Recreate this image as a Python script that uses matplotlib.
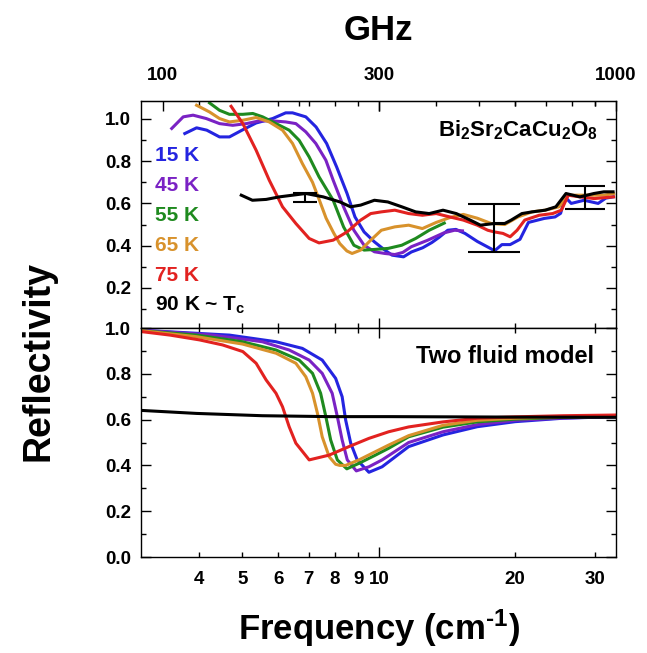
import matplotlib
matplotlib.use("Agg")
import matplotlib.pyplot as plt
from matplotlib.ticker import FixedLocator, FuncFormatter, MultipleLocator, NullFormatter

plt.rcParams["font.family"] = ["Liberation Sans", "DejaVu Sans"]
plt.rcParams["font.weight"] = "bold"
plt.rcParams["mathtext.fontset"] = "custom"
plt.rcParams["mathtext.rm"] = "Liberation Sans:bold"
plt.rcParams["mathtext.bf"] = "Liberation Sans:bold"
plt.rcParams["mathtext.it"] = "Liberation Sans:bold:italic"

CM_TO_GHZ = 29.9792

TEMPS = ["15 K", "45 K", "55 K", "65 K", "75 K", "90 K ~ T$_\\mathrm{c}$"]
COLORS = ["#2424e0", "#7a22c4", "#1f8a1f", "#d8922c", "#e22220", "#000000"]

# measured reflectivity (frequency in cm^-1)
meas_x15 = [3.73, 3.96, 4.17, 4.45, 4.68, 5.02, 5.36, 5.83, 6.23, 6.45, 6.90, 7.27, 7.67, 8.07,
            8.51, 8.86, 9.28, 9.78, 10.31, 10.70, 11.34, 11.8, 12.5, 13.1, 13.6, 14.2, 14.8, 15.5,
            16.5, 17.7, 18.0, 18.7, 19.5, 20.5, 21.4, 23.2, 24.5, 25.2, 25.8, 26.6, 28.4, 30.5,
            31.7, 32.9]
meas_r15 = [0.931, 0.958, 0.947, 0.915, 0.915, 0.950, 0.981, 1.002, 1.029, 1.029, 1.010, 0.962,
            0.884, 0.773, 0.647, 0.536, 0.465, 0.418, 0.379, 0.355, 0.347, 0.37, 0.39, 0.415,
            0.44, 0.473, 0.477, 0.458, 0.42, 0.385, 0.375, 0.405, 0.405, 0.43, 0.51, 0.529,
            0.536, 0.553, 0.63, 0.60, 0.615, 0.60, 0.625, 0.631]

meas_x45 = [3.49, 3.70, 3.89, 4.16, 4.45, 4.76, 5.10, 5.45, 5.82, 6.23, 6.56, 6.90, 7.26, 7.64,
            7.93, 8.36, 8.81, 9.28, 9.78, 10.31, 10.85, 11.3, 11.8, 12.8, 13.9, 14.7, 15.3]
meas_r45 = [0.955, 1.010, 1.018, 1.002, 0.978, 0.970, 0.978, 0.991, 0.991, 0.986, 0.978, 0.939,
            0.884, 0.805, 0.710, 0.584, 0.473, 0.402, 0.371, 0.363, 0.358, 0.368, 0.395, 0.425,
            0.46, 0.473, 0.47]

meas_x55 = [4.23, 4.45, 4.68, 5.01, 5.27, 5.54, 5.93, 6.34, 6.67, 7.02, 7.38, 7.93, 8.36, 8.81,
            9.28, 9.78, 10.49, 11.24, 12.06, 12.92, 13.95]
meas_r55 = [1.076, 1.041, 1.022, 1.022, 1.026, 1.010, 0.978, 0.947, 0.899, 0.820, 0.726, 0.615,
            0.489, 0.402, 0.379, 0.382, 0.387, 0.402, 0.434, 0.473, 0.507]

meas_x65 = [3.96, 4.23, 4.45, 4.68, 5.01, 5.36, 5.73, 6.13, 6.45, 6.78, 7.14, 7.38, 7.65, 7.95,
            8.2, 8.5, 8.73, 9.12, 9.60, 10.13, 10.85, 11.64, 12.48, 13.39, 14.35, 15.37, 16.5,
            17.7, 18.97, 20.3, 21.8, 23.3, 25.0, 26.2, 28.8, 31.4, 33.0]
meas_r65 = [1.065, 1.033, 1.002, 0.986, 0.994, 1.007, 0.986, 0.947, 0.884, 0.789, 0.70, 0.62,
            0.53, 0.46, 0.41, 0.375, 0.363, 0.379, 0.426, 0.473, 0.489, 0.497, 0.481, 0.51,
            0.533, 0.548, 0.53, 0.505, 0.50, 0.536, 0.560, 0.568, 0.584, 0.639, 0.639, 0.639,
            0.647]

meas_x75 = [4.72, 5.01, 5.36, 5.73, 6.13, 6.56, 7.02, 7.38, 7.93, 8.51, 9.12, 9.60, 10.13, 10.85,
            11.64, 12.48, 13.39, 14.35, 15.37, 16.5, 17.4, 18.0, 18.8, 19.5, 20.2, 21.0, 22.6,
            24.2, 25.3, 26.2, 27.8, 29.9, 33.0]
meas_r75 = [1.060, 0.978, 0.852, 0.710, 0.584, 0.505, 0.434, 0.413, 0.426, 0.465, 0.521, 0.552,
            0.560, 0.568, 0.552, 0.544, 0.552, 0.536, 0.521, 0.497, 0.473, 0.465, 0.458, 0.442,
            0.473, 0.521, 0.544, 0.552, 0.568, 0.639, 0.631, 0.623, 0.631]

meas_x90 = [4.97, 5.26, 5.64, 6.03, 6.45, 6.90, 7.54, 8.21, 8.66, 9.12, 9.78, 10.47, 11.24, 12.06,
            12.92, 13.86, 14.83, 15.92, 16.77, 18.0, 18.97, 19.6, 20.7, 21.8, 23.3, 24.6, 25.9,
            27.8, 29.85, 31.4, 32.9]
meas_r90 = [0.639, 0.615, 0.619, 0.631, 0.639, 0.647, 0.631, 0.607, 0.584, 0.592, 0.615, 0.607,
            0.584, 0.560, 0.552, 0.568, 0.552, 0.521, 0.497, 0.505, 0.505, 0.521, 0.552, 0.560,
            0.568, 0.584, 0.647, 0.631, 0.647, 0.655, 0.655]

# error bars on the 90 K data
err_x = [6.87, 18.0, 28.6]
err_y = [0.629, 0.484, 0.627]
err_dy = [0.021, 0.112, 0.055]
err_cap = [8.6, 18.7, 14.4]

# two fluid model
fit_x15 = [3.0, 4.68, 5.93, 6.78, 7.5, 8.03, 8.3, 8.45, 8.67, 8.96, 9.51, 10.17, 11.64, 13.86,
           16.5, 20, 25.5, 33.4]
fit_r15 = [0.99, 0.969, 0.940, 0.911, 0.860, 0.780, 0.700, 0.598, 0.497, 0.424, 0.370, 0.394,
           0.482, 0.533, 0.569, 0.591, 0.606, 0.613]

fit_x45 = [3.0, 4.3, 5.53, 6.34, 7.02, 7.5, 7.89, 8.1, 8.3, 8.52, 8.92, 9.51, 10.17, 11.64, 13.86,
           16.5, 20, 25.5, 33.4]
fit_r45 = [0.99, 0.969, 0.940, 0.904, 0.860, 0.802, 0.715, 0.613, 0.511, 0.424, 0.376, 0.394,
           0.424, 0.50, 0.547, 0.578, 0.597, 0.607, 0.613]

fit_x55 = [3.0, 3.96, 5.0, 5.93, 6.67, 7.14, 7.44, 7.64, 7.83, 8.1, 8.5, 9.04, 9.83, 10.52, 11.64,
           13.86, 16.5, 20, 25.5, 33.4]
fit_r55 = [0.988, 0.969, 0.940, 0.904, 0.860, 0.802, 0.715, 0.613, 0.511, 0.424, 0.385, 0.409,
           0.445, 0.475, 0.525, 0.567, 0.59, 0.602, 0.61, 0.614]

fit_x65 = [3.0, 3.96, 5.0, 5.93, 6.56, 6.90, 7.14, 7.32, 7.50, 7.77, 8.03, 8.2, 8.45, 9.04, 9.83,
           10.52, 11.64, 13.86, 16.5, 20, 25.5, 33.4]
fit_r65 = [0.988, 0.962, 0.930, 0.890, 0.846, 0.787, 0.715, 0.628, 0.525, 0.438, 0.405, 0.400,
           0.400, 0.424, 0.460, 0.489, 0.53, 0.575, 0.597, 0.606, 0.612, 0.615]

fit_x75 = [3.0, 3.46, 4.02, 4.52, 5.01, 5.36, 5.64, 5.93, 6.13, 6.34, 6.56, 7.02, 7.77, 8.59, 9.51,
           10.52, 11.64, 13.86, 16.5, 20, 25.5, 33.4]
fit_r75 = [0.984, 0.969, 0.948, 0.926, 0.897, 0.846, 0.773, 0.715, 0.656, 0.569, 0.497, 0.424,
           0.445, 0.482, 0.518, 0.547, 0.568, 0.59, 0.606, 0.612, 0.617, 0.62]

fit_x90 = [3.0, 3.96, 5.53, 7.77, 10.52, 20, 33.4]
fit_r90 = [0.64, 0.627, 0.617, 0.613, 0.613, 0.611, 0.61]

meas = [(meas_x15, meas_r15), (meas_x45, meas_r45), (meas_x55, meas_r55),
        (meas_x65, meas_r65), (meas_x75, meas_r75), (meas_x90, meas_r90)]
fits = [(fit_x15, fit_r15), (fit_x45, fit_r45), (fit_x55, fit_r55),
        (fit_x65, fit_r65), (fit_x75, fit_r75), (fit_x90, fit_r90)]

XLIM = (2.985, 33.4)
TICK_FS = 13.5
LABEL_FS = 25


def style_axes(ax):
    ax.set_xscale("log")
    ax.set_xlim(*XLIM)
    ax.xaxis.set_major_locator(FixedLocator([10]))
    ax.xaxis.set_minor_locator(FixedLocator([4, 5, 6, 7, 8, 9, 20, 30]))
    fmt = FuncFormatter(lambda v, p: f"{v:g}")
    ax.xaxis.set_major_formatter(fmt)
    ax.xaxis.set_minor_formatter(fmt)
    ax.yaxis.set_major_locator(MultipleLocator(0.2))
    ax.yaxis.set_minor_locator(MultipleLocator(0.1))
    ax.yaxis.set_major_formatter(FuncFormatter(lambda v, p: f"{v:.1f}"))
    ax.tick_params(which="both", direction="in", top=True, right=True, width=1.0,
                   labelsize=TICK_FS)
    ax.tick_params(which="major", length=7)
    ax.tick_params(which="minor", length=3.5)
    ax.tick_params(axis="x", which="both", pad=10)
    ax.tick_params(axis="y", which="both", pad=7)
    for sp in ax.spines.values():
        sp.set_linewidth(1.0)


fig = plt.figure(figsize=(6.47, 6.53), dpi=100)
ax1 = fig.add_axes([0.2179, 0.4977, 0.7342, 0.3476])
ax2 = fig.add_axes([0.2179, 0.1470, 0.7342, 0.3507])

for ax in (ax1, ax2):
    style_axes(ax)

# measured data
for (x, r), c in zip(meas, COLORS):
    ax1.plot(x, r, color=c, lw=2.2, solid_joinstyle="round")
for x, y, dy, cap in zip(err_x, err_y, err_dy, err_cap):
    ax1.errorbar([x], [y], yerr=[dy], fmt="none", ecolor="black", elinewidth=1.5,
                 capsize=cap, capthick=1.5)
ax1.set_ylim(0.01, 1.085)
ax1.tick_params(axis="x", which="both", labelbottom=False)

# GHz scale along the top
sec = ax1.secondary_xaxis("top", functions=(lambda f: f * CM_TO_GHZ, lambda g: g / CM_TO_GHZ))
sec.set_xticks([100, 300, 1000], labels=["100", "300", "1000"])
sec.xaxis.set_minor_locator(FixedLocator([200, 400, 500, 600, 700, 800, 900]))
sec.xaxis.set_minor_formatter(NullFormatter())
sec.tick_params(which="both", direction="in", width=1.0, labelsize=TICK_FS, pad=12)
sec.tick_params(which="major", length=7)
sec.tick_params(which="minor", length=3.5)
sec.set_xlabel("GHz", fontsize=LABEL_FS, fontweight="bold", labelpad=20)

for i, (lab, c) in enumerate(zip(TEMPS, COLORS)):
    ax1.text(0.029, 0.762 - 0.1322 * i, lab, transform=ax1.transAxes, color=c,
             fontsize=15, fontweight="bold", ha="left", va="center")
ax1.text(0.962, 0.843, "Bi$_\\mathrm{2}$Sr$_\\mathrm{2}$CaCu$_\\mathrm{2}$O$_\\mathrm{8}$",
         transform=ax1.transAxes, fontsize=16, ha="right", va="baseline")

# two fluid model
for (x, r), c in zip(fits, COLORS):
    ax2.plot(x, r, color=c, lw=2.2, solid_joinstyle="round")
ax2.set_ylim(0.0, 1.0)
ax2.text(0.954, 0.847, "Two fluid model", transform=ax2.transAxes, fontsize=17,
         fontweight="bold", ha="right", va="baseline")
ax2.set_xlabel("Frequency (cm$^{\\text{-1}}$)", fontsize=LABEL_FS, fontweight="bold",
               labelpad=14)

fig.text(0.059, 0.447, "Reflectivity", rotation=90, fontsize=27, fontweight="bold",
         ha="center", va="center")

fig.savefig("out.png", dpi=100)
